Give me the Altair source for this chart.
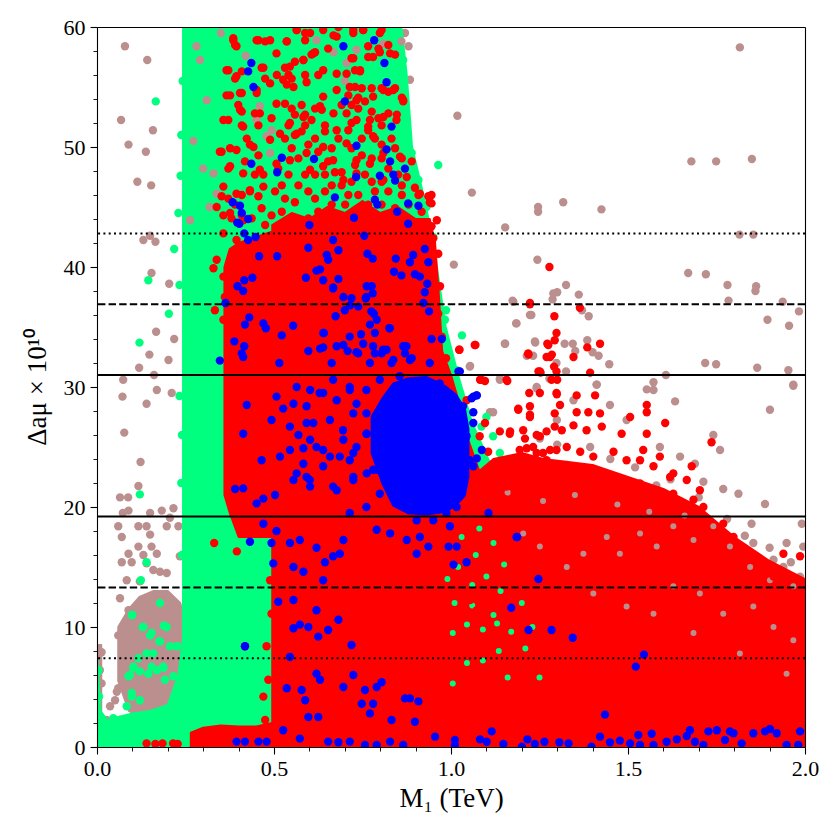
import altair as alt
import pandas as pd

# ---------------- colours ----------------
BROWN = "#BC8F8F"
GREEN = "#00FF7F"
RED = "#FF0000"
BLUE = "#0000FF"

# ---------------- dense regions (x, lower y, upper y) ----------------
brown_bands = {
    "strip":   ([0.0, 0.012], [1.5, 1.5], [8.5, 8.5]),
    "cluster": ([0.06, 0.09, 0.12, 0.16, 0.20, 0.235, 0.245],
                [5.5, 3.0, 2.5, 2.5, 3.0, 4.0, 8.0],
                [10.0, 11.5, 12.5, 13.0, 13.0, 12.0, 11.0]),
}
green_bands = {
    "left": ([0.0, 0.01, 0.03, 0.06, 0.10, 0.15, 0.20, 0.23, 0.243],
             [0, 0, 0, 0, 0, 0, 0, 0, 0],
             [7.5, 3.0, 2.2, 2.5, 2.8, 3.0, 3.5, 6.0, 9.0]),
    "main": ([0.243, 0.86, 0.875, 0.89, 0.93, 0.96, 0.985, 1.02, 1.06, 1.12, 1.15, 1.2, 1.26, 1.3, 1.34],
             [0, 0, 0, 0, 0, 0, 0, 0, 0, 0, 0, 0, 0, 0, 0],
             [60, 60, 56, 50, 45, 40, 35, 31, 27, 23, 20, 15, 13.5, 12.5, 9]),
}
red_bands = {
    "bottomleft": ([0.265, 0.3, 0.35, 0.4, 0.45, 0.495],
                   [0, 0, 0, 0, 0, 0],
                   [1.2, 1.6, 1.8, 1.7, 1.7, 2.0]),
    "left": ([0.36, 0.375, 0.40, 0.45, 0.50],
             [21, 19.5, 17.5, 17.5, 17.5],
             [40, 41.5, 42, 42.5, 43]),
    "main": ([0.495, 0.55, 0.6, 0.65, 0.7, 0.75, 0.8, 0.85, 0.90, 0.94, 0.955, 0.965, 0.975, 1.0,
              1.02, 1.05, 1.08, 1.12, 1.2, 1.26, 1.32, 1.4, 1.5, 1.6, 1.7, 1.8, 1.9, 2.0],
             [0] * 28,
             [43.5, 44.5, 44, 45, 44.5, 45.5, 44.5, 45, 44, 44, 42, 38, 33, 31,
              29, 25.5, 23, 24, 24.5, 24, 23.8, 23.5, 22.5, 21.5, 20, 17.5, 15.5, 14]),
}
blue_bands = {
    "blob": ([0.78, 0.81, 0.84, 0.88, 0.93, 0.98, 1.01, 1.035, 1.045],
             [24.5, 22.0, 20.2, 19.6, 19.5, 19.7, 20.2, 21.0, 22.5],
             [27.5, 29.0, 30.2, 30.6, 30.7, 30.0, 29.3, 28.2, 26.5]),
}

# ---------------- individual points ----------------
brown_points = [
    (0.079, 58.4), (0.142, 57.25), (0.068, 52.25), (0.158, 51.4), (0.089, 50.2), (0.138, 49.6),
    (0.114, 47.1), (0.153, 46.8), (0.131, 42.25), (0.150, 42.6), (0.165, 42.1), (0.154, 39.5),
    (0.204, 38.6), (0.167, 34.6), (0.218, 34.0), (0.148, 32.7), (0.119, 31.6), (0.202, 32.25),
    (0.161, 31.0), (0.074, 30.6), (0.072, 29.2), (0.169, 29.75), (0.140, 28.6), (0.211, 29.5),
    (0.077, 26.2), (0.123, 23.75), (0.117, 21.75), (0.065, 20.8), (0.088, 20.8), (0.073, 19.5),
    (0.089, 19.7), (0.150, 19.5), (0.183, 19.7), (0.216, 19.9), (0.206, 19.1), (0.060, 18.4),
    (0.117, 18.4), (0.140, 18.4), (0.150, 17.7), (0.197, 18.4), (0.230, 18.4), (0.070, 17.5),
    (0.154, 16.7), (0.117, 16.7), (0.089, 16.1), (0.131, 16.0), (0.169, 16.1), (0.070, 15.4),
    (0.098, 15.4), (0.140, 15.3), (0.159, 14.75), (0.178, 14.6), (0.197, 14.5), (0.234, 15.9),
    (0.084, 13.9), (0.121, 13.8), (0.065, 12.4), (0.089, 11.4), (0.060, 9.3), (0.074, 9.2),
    (0.013, 7.9), (0.056, 4.6), (0.037, 3.4), (0.027, 2.25), (0.060, 4.9), (0.051, 3.9),
    (0.032, 1.7), (0.008, 7.8), (0.008, 6.4), (0.013, 5.3), (0.071, 8.6),
    (1.412, 30.2), (1.572, 29.75), (1.633, 28.8), (1.449, 28.5), (1.496, 27.25), (1.590, 25.0),
    (1.647, 24.2), (1.689, 23.6), (1.713, 22.1), (1.769, 21.5), (1.812, 21.1), (1.887, 20.25),
    (1.901, 28.1), (1.967, 30.2), (1.741, 26.0), (1.760, 24.75), (1.849, 18.6), (1.991, 18.6),
    (1.854, 17.0), (1.939, 15.0), (1.986, 14.2), (1.110, 27.9), (1.251, 25.7), (1.195, 23.8),
    (1.948, 17.0), (1.995, 16.7), (1.911, 15.6), (1.346, 28.9), (1.299, 27.25), (1.393, 25.0),
    (1.816, 58.3), (1.018, 52.6), (1.679, 48.8), (1.749, 48.8), (1.850, 49.0), (1.059, 46.2),
    (1.246, 45.0), (1.246, 44.6), (1.317, 45.4), (1.425, 44.8), (1.153, 43.3), (1.815, 42.7),
    (1.854, 42.7), (1.008, 40.2), (1.244, 40.6), (1.670, 39.5), (1.720, 39.4), (1.781, 38.5),
    (1.862, 38.4), (1.860, 38.0), (1.325, 38.5), (1.300, 37.9), (1.287, 37.3), (1.361, 37.7),
    (1.174, 37.2), (1.784, 37.2), (1.937, 37.1), (1.983, 36.3), (1.227, 36.0), (1.184, 35.3),
    (1.894, 35.6), (1.955, 35.1), (1.389, 35.9), (1.370, 36.4), (1.153, 33.6), (1.238, 33.7),
    (1.321, 33.6), (1.344, 33.6), (1.351, 33.0), (1.385, 33.9), (1.400, 32.9), (1.417, 32.6),
    (1.447, 31.9), (1.214, 32.6), (1.232, 32.6), (1.054, 31.75), (1.718, 32.0), (1.749, 31.9),
    (1.865, 31.6), (1.953, 31.4), (1.607, 31.0), (1.572, 30.4), (1.138, 30.7), (1.967, 30.1),
    (1.298, 32.0), (1.278, 30.7), (1.325, 31.3), (1.411, 30.2), (1.553, 29.8), (1.242, 30.0),
    (1.176, 37.1), (1.185, 35.3), (1.152, 33.6), (1.223, 36.0), (1.237, 33.8), (1.242, 29.9),
    (1.289, 37.8), (1.053, 31.7), (1.138, 30.6), (1.119, 27.9), (1.176, 23.8), (1.213, 23.4),
    (1.157, 22.7), (0.884, 55.6), (0.870, 59.5), (0.880, 58.4),
    (1.30, 25.2), (1.45, 24.0), (1.52, 23.3), (1.62, 22.3), (1.70, 20.8), (1.78, 19.0),
    (1.83, 17.6), (1.90, 16.6), (1.96, 15.4), (1.40, 22.6), (1.58, 21.8), (1.75, 17.8),
]
brown_patch_points = [
    (0.281, 58.4), (0.291, 57.25), (0.310, 53.9), (0.451, 52.25), (0.479, 50.9), (0.493, 51.4),
    (0.489, 49.5), (0.460, 53.4), (0.668, 57.9), (0.733, 58.1), (0.705, 57.0), (0.809, 58.6),
    (0.329, 47.8), (0.338, 46.1), (0.263, 43.9), (0.350, 59.5), (0.420, 57.6), (0.620, 58.9),
    (0.700, 55.5), (0.860, 58.8), (0.272, 50.5), (0.300, 48.2), (0.318, 45.0),
]
# brown showing through gaps of the red cloud on the right
brown_gap_points = [
    (1.374, 16.1), (1.440, 17.5), (1.477, 16.1), (1.534, 17.8), (1.581, 16.7), (1.628, 18.4),
    (1.685, 17.25), (1.741, 18.4), (1.788, 16.7), (1.845, 15.0), (1.901, 13.9), (1.967, 13.4),
    (1.628, 13.4), (1.703, 12.8), (1.769, 11.1), (1.854, 11.7), (1.911, 10.0), (1.967, 8.9),
    (1.816, 7.8), (1.948, 6.1), (1.685, 9.5), (1.572, 11.1), (1.496, 11.7), (1.402, 12.8),
    (1.327, 15.0), (1.251, 16.7), (1.204, 17.8), (1.35, 21.0), (1.47, 20.2), (1.56, 19.6),
    (1.66, 19.3), (1.26, 20.5), (1.16, 21.2),
]
green_points = [
    (0.166, 53.8), (0.218, 41.5), (0.145, 38.9), (0.233, 38.5), (0.203, 36.1), (0.120, 33.7),
    (0.964, 48.5), (0.121, 21.05), (0.140, 15.4), (0.124, 13.9), (0.098, 11.0), (0.131, 10.0),
    (0.150, 9.3), (0.178, 8.8), (0.197, 10.0), (0.227, 8.4), (0.103, 6.7), (0.093, 6.0),
    (0.098, 4.5), (0.004, 6.4), (0.154, 6.7), (0.188, 6.6), (0.206, 8.4), (0.233, 29.25),
    (0.100, 11.0), (0.129, 10.0), (0.154, 9.5), (0.176, 8.8), (0.189, 10.1), (0.178, 12.0),
    (0.225, 8.4), (0.117, 7.4), (0.140, 7.8), (0.159, 7.8), (0.103, 6.6), (0.121, 6.3),
    (0.145, 6.1), (0.169, 6.4), (0.187, 6.7), (0.192, 5.6), (0.089, 5.9), (0.216, 5.9),
    (0.084, 3.4), (0.098, 4.2), (0.121, 3.9), (0.216, 3.1), (0.046, 2.4), (0.065, 2.25),
    (0.103, 1.7), (0.003, 6.3), (0.006, 4.2),
    (0.230, 44.5), (0.236, 47.6), (0.242, 55.5), (0.238, 51.0), (0.240, 26.0), (0.238, 22.0),
    (0.240, 16.0),
    (0.865, 57.25), (0.851, 55.0), (0.875, 52.25), (0.889, 49.5), (0.908, 47.25), (0.931, 45.0),
    (0.950, 42.5), (1.031, 34.3), (0.983, 35.6), (0.986, 36.4), (0.987, 32.5), (1.016, 31.4),
    (1.100, 27.5), (1.086, 26.7), (1.119, 25.9), (1.138, 24.5), (1.129, 23.4), (1.138, 22.25),
    (1.157, 20.6), (1.185, 19.75),
]
# green showing through gaps of the red cloud
green_gap_points = [
    (1.005, 9.5), (1.045, 10.2), (1.090, 9.8), (1.130, 10.3), (1.045, 7.0), (1.090, 7.2),
    (1.135, 8.0), (1.170, 9.6), (1.210, 8.2), (1.010, 12.0), (1.060, 13.5), (1.100, 14.2),
    (1.140, 13.0), (1.020, 15.0), (1.070, 16.0), (1.005, 5.3), (1.160, 5.8), (1.250, 5.8),
    (1.200, 12.0), (1.120, 11.0), (1.030, 17.5), (1.080, 18.2), (1.120, 17.0), (1.060, 11.8),
    (0.990, 14.0), (1.150, 15.2), (1.230, 10.0),
]
red_points = [
    (0.385, 58.9), (0.394, 58.4), (0.451, 58.9), (0.489, 58.9), (0.536, 58.8), (0.564, 59.75),
    (0.602, 59.5), (0.639, 59.75), (0.677, 59.2), (0.724, 59.75), (0.752, 59.75), (0.799, 59.5),
    (0.366, 56.4), (0.394, 55.9), (0.470, 56.6), (0.507, 57.8), (0.545, 56.7), (0.583, 57.25),
    (0.611, 57.8), (0.639, 56.4), (0.677, 56.1), (0.724, 57.4), (0.743, 56.4), (0.780, 57.5),
    (0.828, 57.8), (0.837, 54.75), (0.865, 53.9), (0.376, 54.3), (0.404, 54.5), (0.451, 54.75),
    (0.489, 55.3), (0.526, 55.6), (0.555, 55.0), (0.592, 55.4), (0.639, 54.2), (0.677, 54.75),
    (0.714, 55.0), (0.733, 53.9), (0.780, 54.2), (0.809, 54.75), (0.357, 52.25), (0.404, 53.1),
    (0.413, 51.7), (0.460, 52.8), (0.507, 53.6), (0.545, 52.0), (0.583, 52.5), (0.630, 53.4),
    (0.677, 51.4), (0.705, 52.8), (0.733, 52.25), (0.771, 52.25), (0.809, 52.5), (0.846, 52.25),
    (0.347, 49.6), (0.394, 49.75), (0.442, 50.0), (0.489, 50.6), (0.517, 51.1), (0.564, 51.1),
    (0.592, 49.5), (0.639, 50.0), (0.667, 48.9), (0.705, 50.3), (0.733, 48.9), (0.780, 50.9),
    (0.809, 49.5), (0.856, 49.2), (0.376, 48.4), (0.413, 47.8), (0.460, 48.1), (0.507, 48.6),
    (0.545, 48.9), (0.602, 48.1), (0.639, 48.4), (0.696, 47.25), (0.733, 47.8), (0.771, 48.6),
    (0.809, 47.25), (0.875, 47.5), (0.912, 46.1), (0.940, 45.9), (0.940, 45.4), (0.357, 46.7),
    (0.394, 46.1), (0.432, 46.4), (0.470, 46.7), (0.338, 45.0), (0.376, 44.5), (0.413, 43.9),
    (0.357, 42.8), (0.394, 42.25), (0.338, 40.6), (0.329, 39.9), (0.357, 39.2), (0.361, 37.5),
    (0.333, 36.4), (0.357, 35.6), (0.376, 32.8), (0.960, 43.9), (0.964, 41.1), (0.969, 38.4),
    (0.964, 36.1), (0.974, 34.2), (0.960, 32.25), (0.945, 46.0), (0.945, 43.4), (0.950, 42.4),
    (1.278, 40.0), (1.223, 36.9), (1.364, 36.6), (1.292, 35.9), (1.298, 34.5), (1.272, 33.6),
    (1.421, 33.6), (1.385, 33.3), (1.219, 32.7), (1.285, 32.7), (1.280, 32.5), (1.346, 32.5),
    (1.069, 33.5), (1.024, 33.1), (0.986, 32.4), (1.291, 31.7), (1.298, 31.3), (1.393, 31.2),
    (1.247, 31.3), (1.253, 31.2), (1.159, 30.5), (1.082, 30.6), (1.096, 30.5), (1.300, 30.6),
    (1.223, 37.0), (1.067, 33.5), (1.023, 33.1), (1.157, 30.6), (1.086, 30.6), (1.190, 28.2),
    (1.223, 28.4), (1.223, 27.7), (1.251, 31.3), (1.284, 30.6), (1.270, 32.5), (1.293, 33.9),
    (1.275, 33.5), (1.218, 32.8), (1.298, 29.5), (1.293, 27.8), (1.138, 26.3), (1.166, 26.1),
    (1.209, 25.7), (1.251, 25.9), (1.293, 26.7), (1.194, 24.75), (1.232, 25.0), (1.260, 24.5),
    (1.298, 24.75), (1.138, 23.2), (1.185, 22.9), (1.232, 23.4), (1.270, 23.9), (1.157, 21.7),
    (1.232, 21.8), (1.270, 21.1), (1.105, 24.6), (1.081, 25.9), (1.096, 27.0), (1.044, 28.9),
    (1.221, 29.5), (1.251, 29.5), (1.299, 29.4), (1.355, 29.3), (1.407, 29.3), (1.308, 28.5),
    (1.355, 27.9), (1.388, 27.9), (1.421, 27.8), (1.190, 28.1), (1.223, 27.5), (1.270, 26.3),
    (1.313, 26.4), (1.346, 26.8), (1.383, 26.4), (1.426, 26.7), (1.482, 26.1), (1.506, 27.5),
    (1.553, 28.5), (1.553, 27.9), (1.605, 27.0), (1.553, 26.1), (1.543, 24.75), (1.590, 24.2),
    (1.619, 22.5), (1.680, 23.4), (1.736, 25.4), (1.167, 26.3), (1.204, 26.4), (1.242, 26.0),
    (1.214, 24.9), (1.242, 24.5), (1.280, 24.75), (1.327, 25.0), (1.365, 24.6), (1.402, 24.2),
    (1.459, 24.6), (1.496, 23.9), (1.534, 23.9), (1.572, 23.4), (1.628, 22.8), (1.666, 22.25),
    (1.703, 21.4), (1.186, 23.1), (1.223, 23.4), (1.289, 23.1), (1.336, 22.8), (1.374, 22.5),
    (1.440, 22.5), (1.487, 22.25), (1.534, 21.97), (1.581, 21.4), (1.628, 21.1), (1.685, 20.6),
    (1.713, 20.0), (1.769, 18.6), (1.798, 17.5), (1.845, 16.1), (1.873, 15.0), (1.911, 14.2),
    (1.939, 16.1), (1.986, 15.9), (1.741, 16.1), (1.788, 15.0), (1.816, 13.9), (1.948, 13.9),
    (0.331, 17.0), (0.395, 16.3), (0.489, 13.9), (0.493, 11.1), (0.479, 8.4), (0.484, 5.6),
    (0.470, 4.2), (0.475, 2.25), (0.140, 0.3), (0.165, 0.25), (0.185, 0.3), (0.215, 0.3),
    (0.228, 0.25), (0.418, 8.4),
    (0.988, 12.8), (1.025, 13.1), (1.054, 12.25), (0.997, 11.1), (1.035, 11.1), (1.073, 11.4),
    (1.110, 12.5), (1.138, 11.7), (1.101, 10.3), (1.063, 9.5), (1.025, 8.9), (0.988, 8.1),
    (1.025, 7.8), (1.082, 8.4), (1.120, 9.2), (1.157, 8.9), (1.186, 7.8), (1.223, 7.0),
    (1.195, 6.4), (1.148, 6.7), (1.110, 7.25), (1.073, 6.4), (1.025, 6.1), (0.997, 6.4),
    (1.233, 8.9), (1.251, 10.3), (1.204, 11.1), (1.167, 10.6), (1.242, 11.7), (1.186, 12.5),
    (1.219, 12.8),
]
red_points_top = [
    (0.385, 59.06), (0.390, 58.5), (0.456, 58.9), (0.475, 58.8), (0.564, 59.75), (0.588, 59.5),
    (0.588, 58.9), (0.536, 58.8), (0.653, 58.2), (0.668, 59.3), (0.682, 60.0), (0.752, 59.75),
    (0.724, 59.5), (0.804, 59.75), (0.766, 58.4), (0.795, 58.2), (0.823, 58.5), (0.842, 57.7),
    (0.799, 57.9), (0.719, 57.4), (0.766, 57.5), (0.729, 56.4), (0.743, 56.3), (0.705, 56.1),
    (0.371, 56.4), (0.409, 56.3), (0.390, 55.7), (0.465, 56.6), (0.475, 55.7), (0.508, 56.0),
    (0.531, 56.6), (0.541, 56.0), (0.559, 57.1), (0.583, 57.25), (0.606, 57.7), (0.616, 57.9),
    (0.625, 56.0), (0.588, 56.0), (0.536, 55.2), (0.550, 55.7), (0.729, 55.0), (0.748, 54.9),
    (0.776, 54.9), (0.804, 54.9), (0.823, 54.6), (0.842, 54.9), (0.861, 54.1), (0.865, 53.8),
    (0.710, 54.3), (0.738, 54.1), (0.757, 53.8), (0.719, 53.5), (0.366, 54.3), (0.409, 54.5),
    (0.451, 54.5), (0.399, 53.5), (0.409, 52.95), (0.446, 52.8), (0.531, 53.6), (0.550, 53.2),
    (0.578, 53.5), (0.559, 52.7), (0.588, 52.7), (0.616, 53.2), (0.635, 53.1), (0.606, 52.25),
    (0.668, 52.8), (0.691, 53.5), (0.738, 53.2), (0.776, 52.95), (0.795, 52.4), (0.823, 52.8),
    (0.847, 52.7), (0.371, 52.25), (0.409, 51.8), (0.456, 51.8), (0.493, 52.4), (0.541, 51.8),
    (0.588, 51.8), (0.644, 51.8), (0.719, 52.0), (0.766, 51.7), (0.804, 51.8),
    (0.352, 49.6), (0.376, 49.9), (0.371, 48.2), (0.423, 50.7), (0.432, 50.2), (0.418, 48.8),
    (0.456, 49.3), (0.446, 47.7), (0.470, 47.7), (0.432, 46.3), (0.409, 46.0), (0.456, 45.9),
    (0.352, 45.9), (0.371, 45.7), (0.390, 45.2), (0.357, 44.3), (0.380, 44.05), (0.409, 44.3),
    (0.437, 44.05), (0.465, 44.9), (0.493, 44.3), (0.475, 43.5), (0.522, 44.6), (0.503, 46.3),
    (0.522, 46.8), (0.512, 48.2), (0.541, 47.7), (0.531, 50.7), (0.559, 51.0), (0.578, 51.3),
    (0.550, 49.9), (0.569, 49.05), (0.597, 50.2), (0.616, 50.7), (0.644, 51.3), (0.625, 49.6),
    (0.653, 48.8), (0.663, 49.9), (0.682, 50.7), (0.710, 51.4), (0.719, 49.9), (0.748, 50.7),
    (0.766, 51.4), (0.785, 50.7), (0.804, 50.2), (0.832, 50.7), (0.842, 49.9), (0.861, 49.05),
    (0.804, 49.05), (0.776, 49.05), (0.748, 49.3), (0.729, 48.5), (0.691, 47.9), (0.672, 47.9),
    (0.644, 47.7), (0.616, 47.7), (0.588, 47.7), (0.569, 46.8), (0.597, 46.3), (0.616, 45.7),
    (0.644, 46.3), (0.663, 46.8), (0.691, 46.8), (0.719, 47.1), (0.757, 47.7), (0.776, 47.1),
    (0.804, 47.1), (0.823, 48.2), (0.851, 47.7), (0.861, 46.8), (0.889, 48.8), (0.898, 46.6),
    (0.908, 46.0), (0.936, 45.9), (0.945, 45.3), (0.785, 46.3), (0.823, 46.3), (0.861, 46.0),
    (0.880, 45.2), (0.917, 44.6), (0.842, 44.9), (0.804, 45.2), (0.766, 45.2), (0.738, 46.0),
    (0.710, 46.0), (0.701, 45.2), (0.663, 45.2), (0.625, 44.6), (0.597, 44.05), (0.569, 43.5),
    (0.541, 43.2), (0.635, 43.5), (0.672, 43.5), (0.710, 44.05), (0.748, 44.05), (0.785, 44.3),
    (0.823, 43.8), (0.861, 43.8), (0.898, 43.5), (0.936, 43.5), (0.559, 45.4), (0.531, 45.7),
]
blue_points = [
    (0.783, 58.9), (0.696, 58.4), (0.436, 57.0), (0.427, 56.3), (0.442, 55.0), (0.812, 57.0),
    (0.818, 55.4), (0.700, 53.8), (0.832, 51.7), (0.733, 50.1), (0.522, 49.1), (0.613, 49.0),
    (0.436, 48.6), (0.509, 47.9), (0.818, 49.8), (0.828, 48.8), (0.799, 47.6), (0.837, 47.7),
    (0.842, 47.2), (0.870, 48.2), (0.732, 47.5), (0.672, 45.8), (0.785, 45.6), (0.792, 45.2),
    (0.879, 45.3), (0.908, 45.1), (0.848, 44.6), (0.383, 45.4), (0.404, 45.1), (0.409, 44.5),
    (0.396, 43.7), (0.402, 43.6), (0.427, 44.0), (0.726, 44.1), (0.600, 43.5), (0.879, 43.6),
    (0.416, 42.8), (0.427, 42.25), (0.448, 42.5), (0.597, 41.6), (0.667, 42.25), (0.682, 41.4),
    (0.926, 41.5), (0.755, 42.6), (0.458, 40.9), (0.509, 40.9), (0.649, 41.0), (0.653, 40.6),
    (0.764, 41.1), (0.779, 40.7), (0.844, 40.7), (0.884, 40.4), (0.893, 41.0), (0.936, 40.4),
    (0.620, 39.7), (0.630, 39.8), (0.590, 39.1), (0.639, 38.9), (0.682, 39.0), (0.839, 39.6),
    (0.860, 39.3), (0.898, 39.4), (0.912, 39.2), (0.416, 38.9), (0.439, 39.1), (0.397, 38.4),
    (0.413, 38.0), (0.667, 38.3), (0.762, 38.4), (0.776, 38.4), (0.933, 38.6), (0.696, 37.5),
    (0.719, 37.4), (0.759, 37.4), (0.779, 37.8), (0.926, 37.9), (0.922, 37.0), (0.363, 37.0),
    (0.782, 36.1), (0.674, 35.9), (0.700, 36.4), (0.715, 36.8), (0.738, 36.7), (0.938, 36.3),
    (0.430, 35.8), (0.418, 35.2), (0.470, 35.3), (0.477, 34.9), (0.771, 35.2), (0.785, 34.5),
    (0.554, 35.1), (0.522, 34.3), (0.641, 34.5), (0.696, 33.5), (0.746, 34.4), (0.752, 33.6),
    (0.826, 34.9), (0.945, 34.0), (0.974, 34.0), (0.388, 33.8), (0.416, 33.4), (0.413, 32.5),
    (0.409, 32.8), (0.597, 33.0), (0.630, 33.2), (0.639, 33.3), (0.708, 33.0), (0.733, 32.9),
    (0.780, 33.4), (0.785, 32.8), (0.804, 32.8), (0.818, 33.1), (0.865, 33.4), (0.870, 32.8),
    (0.889, 32.4), (0.347, 32.2), (0.515, 32.0), (0.663, 32.0), (0.832, 32.0), (0.940, 32.0),
    (0.423, 28.5), (0.413, 26.1), (0.390, 21.5), (0.413, 21.55), (0.465, 23.9), (0.493, 27.25),
    (0.526, 28.2), (0.555, 28.6), (0.507, 29.2), (0.545, 26.7), (0.569, 26.0), (0.592, 27.0),
    (0.602, 25.6), (0.517, 24.2), (0.545, 24.75), (0.583, 24.9), (0.620, 25.0), (0.639, 24.75),
    (0.564, 22.8), (0.555, 22.25), (0.592, 22.5), (0.602, 21.7), (0.583, 23.6), (0.658, 24.2),
    (0.564, 30.0), (0.602, 29.75), (0.639, 29.5), (0.677, 28.9), (0.714, 29.75), (0.733, 28.6),
    (0.696, 25.6), (0.733, 25.0), (0.762, 26.1), (0.790, 27.0), (0.714, 23.9), (0.762, 22.8),
    (0.790, 23.1), (0.677, 21.4), (0.724, 22.5), (0.470, 20.7), (0.503, 21.0), (0.451, 20.3),
    (0.432, 17.1), (0.493, 17.0), (0.507, 18.0), (0.545, 17.0), (0.573, 17.25), (0.620, 16.6),
    (0.470, 18.6), (0.498, 15.3), (0.555, 15.0), (0.583, 14.6), (0.644, 15.4), (0.667, 15.9),
    (0.686, 16.1), (0.696, 17.25), (0.639, 13.9), (0.790, 18.1), (0.828, 17.8), (0.875, 17.25),
    (0.912, 17.5), (0.903, 16.1), (0.936, 16.7), (0.512, 12.1), (0.555, 12.25), (0.573, 10.2),
    (0.597, 10.0), (0.620, 11.4), (0.555, 9.9), (0.625, 9.2), (0.653, 9.75), (0.682, 10.6),
    (0.719, 8.5), (0.545, 7.5), (0.620, 6.1), (0.630, 5.6), (0.588, 3.9), (0.578, 4.75),
    (0.536, 4.9), (0.696, 5.0), (0.724, 6.0), (0.757, 4.75), (0.790, 5.0), (0.804, 5.4),
    (0.748, 3.6), (0.771, 2.8), (0.573, 0.7), (0.597, 2.5), (0.625, 2.5), (0.653, 0.45),
    (0.682, 0.4), (0.714, 0.45), (0.757, 0.17), (0.790, 0.17), (0.828, 0.45), (0.832, 2.25),
    (0.884, 4.05), (0.908, 3.8), (0.898, 2.1), (0.955, 0.86), (0.865, 0.17), (0.870, 4.05),
    (0.780, 3.6), (0.418, 8.4), (0.394, 0.45), (0.418, 0.45), (0.456, 0.45), (0.479, 0.45),
    (0.526, 1.4),
    (0.988, 29.6), (1.063, 27.9), (1.058, 29.05), (1.073, 29.3), (1.087, 24.75), (1.073, 24.05),
    (1.063, 23.4), (1.106, 19.5), (0.997, 18.4), (0.993, 16.7), (1.016, 16.7), (1.044, 15.4),
    (1.007, 15.2), (1.187, 17.5), (1.247, 14.0), (1.170, 11.6), (1.219, 9.75), (1.284, 9.75),
    (1.344, 9.1), (1.545, 7.7), (1.522, 6.7), (1.435, 2.7), (1.115, 1.3), (1.011, 0.58),
    (1.011, 0.17), (1.082, 0.64), (1.101, 0.44), (1.148, 0.25), (1.200, 0.03), (1.216, 0.64),
    (1.237, 0.25), (1.264, 0.44), (1.306, 0.39), (1.332, 0.3), (1.397, 0.03), (1.421, 0.86),
    (1.449, 0.39), (1.477, 0.53), (1.506, 0.3), (1.529, 1.0), (1.567, 1.1), (1.534, 0.17),
    (1.572, 0.17), (1.609, 0.44), (1.638, 0.64), (1.666, 0.92), (1.675, 1.4), (1.689, 0.44),
    (1.713, 0.17), (1.727, 1.3), (1.751, 1.4), (1.774, 0.58), (1.788, 1.3), (1.798, 1.15),
    (1.821, 0.3), (1.854, 1.15), (1.887, 1.3), (1.901, 1.5), (1.920, 1.15), (1.948, 0.17),
    (1.986, 1.3), (1.981, 0.17), (1.021, 31.3),
    (0.761, 37.5), (0.775, 36.3), (0.790, 35.6), (0.827, 34.9), (0.667, 38.2), (0.639, 34.5),
    (0.677, 33.4), (0.714, 34.2), (0.738, 32.8), (0.771, 32.0), (0.808, 33.1), (0.837, 32.25),
    (0.874, 33.4), (0.884, 32.25), (0.855, 30.9), (0.799, 30.6), (0.761, 29.75), (0.714, 30.0),
    (0.667, 30.6), (0.629, 29.5), (0.592, 28.4), (0.611, 27.0), (0.658, 27.25), (0.695, 26.4),
    (0.724, 27.8), (0.761, 27.8), (0.808, 28.4), (0.761, 26.1), (0.724, 24.5), (0.686, 24.2),
    (0.639, 23.4), (0.601, 22.25), (0.667, 21.7), (0.724, 22.25), (0.780, 23.1), (0.808, 24.2),
    (0.818, 22.25), (0.799, 21.1), (0.761, 20.0), (0.714, 19.5), (0.846, 20.6), (0.884, 21.7),
    (1.044, 25.9), (1.063, 27.0), (1.034, 28.4), (1.053, 23.9), (1.025, 21.7), (1.016, 20.0),
    (0.987, 19.5), (0.950, 18.9), (0.903, 18.9), (0.855, 29.75), (0.903, 30.0), (0.968, 30.3),
    (1.063, 29.2), (1.072, 29.3), (1.025, 31.3), (1.185, 17.5),
]

# reference lines: 25.1 +- 1, 2, 3 sigma
solid_lines = [19.2, 31.0]
dashed_lines = [13.3, 36.9]
dotted_lines = [7.4, 42.8]

x_major = [0.0, 0.5, 1.0, 1.5, 2.0]
x_minor = [0.1, 0.2, 0.3, 0.4, 0.6, 0.7, 0.8, 0.9, 1.1, 1.2, 1.3, 1.4, 1.6, 1.7, 1.8, 1.9]
y_major = [0, 10, 20, 30, 40, 50, 60]
y_minor = [2, 4, 6, 8, 12, 14, 16, 18, 22, 24, 26, 28, 32, 34, 36, 38, 42, 44, 46, 48, 52, 54, 56, 58]

# ---------------- build tables ----------------
def band_table(bands):
    rows = []
    for name, (xs, los, his) in bands.items():
        for xv, lo, hi in zip(xs, los, his):
            rows.append({"band": name, "x": xv, "y": lo, "y2": hi})
    return pd.DataFrame(rows)


def point_table(pts):
    return pd.DataFrame({"x": [p[0] for p in pts], "y": [p[1] for p in pts]})


FONT = "Liberation Serif"
DOT = 70
GAP_DOT = 36
xscale = alt.Scale(domain=[0, 2], nice=False, zero=False)
yscale = alt.Scale(domain=[0, 60], nice=False, zero=False)

common_axis = dict(grid=False, domainColor="black", tickColor="black", labelColor="black",
                   titleColor="black", labelFont=FONT, titleFont=FONT, labelFontSize=22,
                   titleFontSize=27, titleFontWeight="normal", domainWidth=1.1, tickWidth=1.1,
                   tickSize=7, zindex=1)
x_axis = alt.Axis(values=x_major, format=".1f", orient="bottom", title="M₁ (TeV)",
                  labelPadding=4, titlePadding=6, labelFlush=False, **common_axis)
y_axis = alt.Axis(values=y_major, format="d", orient="left", title="Δaμ × 10¹⁰",
                  labelPadding=5, titlePadding=12, labelFlush=False, **common_axis)


def band_layer(bands, color, first=False, edge=2):
    enc = dict(
        x=alt.X("x:Q", scale=xscale, axis=x_axis) if first else alt.X("x:Q", scale=xscale),
        y=alt.Y("y:Q", scale=yscale, axis=y_axis) if first else alt.Y("y:Q", scale=yscale),
        y2="y2:Q",
        detail="band:N",
    )
    return alt.Chart(band_table(bands)).mark_area(
        color=color, opacity=1, clip=True, interpolate="linear",
        stroke=color, strokeWidth=edge, strokeJoin="round").encode(**enc)


def point_layer(pts, color, size=DOT):
    return alt.Chart(point_table(pts)).mark_circle(
        color=color, size=size, opacity=1, clip=True).encode(
        x=alt.X("x:Q", scale=xscale), y=alt.Y("y:Q", scale=yscale))


def rule_layer(values, dash):
    mk = dict(color="black", strokeWidth=2)
    if dash:
        mk["strokeDash"] = dash
    return alt.Chart(pd.DataFrame({"y": values})).mark_rule(**mk).encode(
        y=alt.Y("y:Q", scale=yscale))


main = alt.layer(
    band_layer(brown_bands, BROWN, first=True),
    point_layer(brown_points, BROWN),
    band_layer(green_bands, GREEN),
    point_layer(brown_patch_points, BROWN),
    point_layer(green_points, GREEN),
    band_layer(red_bands, RED),
    point_layer(green_gap_points, GREEN, GAP_DOT),
    point_layer(brown_gap_points, BROWN, GAP_DOT),
    point_layer(red_points, RED),
    point_layer(red_points_top, RED),
    band_layer(blue_bands, BLUE, edge=5),
    point_layer(blue_points, BLUE),
    rule_layer(solid_lines, None),
    rule_layer(dashed_lines, [7.4, 3.2]),
    rule_layer(dotted_lines, [2, 3.3]),
)

# minor ticks
minor = alt.Chart(pd.DataFrame({"x": [0.0], "y": [0.0]})).mark_point(opacity=0).encode(
    x=alt.X("x:Q", scale=xscale, axis=alt.Axis(values=x_minor, orient="bottom", labels=False,
                                               domain=False, grid=False, tickSize=4, tickWidth=0.9,
                                               tickColor="black", title=None, zindex=1)),
    y=alt.Y("y:Q", scale=yscale, axis=alt.Axis(values=y_minor, orient="left", labels=False,
                                               domain=False, grid=False, tickSize=4, tickWidth=0.9,
                                               tickColor="black", title=None, zindex=1)),
)

# top / right frame
frame = alt.Chart(pd.DataFrame({"x": [0.0], "y": [0.0]})).mark_point(opacity=0).encode(
    x=alt.X("x:Q", scale=xscale, axis=alt.Axis(orient="top", labels=False, ticks=False,
                                               domain=True, domainColor="black", domainWidth=1.1,
                                               grid=False, title=None, zindex=1)),
    y=alt.Y("y:Q", scale=yscale, axis=alt.Axis(orient="right", labels=False, ticks=False,
                                               domain=True, domainColor="black", domainWidth=1.1,
                                               grid=False, title=None, zindex=1)),
)

chart = alt.layer(main, minor, frame).resolve_axis(
    x="independent", y="independent"
).properties(
    width=708, height=720,
    autosize=alt.AutoSizeParams(type="none"),
    padding={"left": 89, "top": 19, "right": 20, "bottom": 80},
).configure_view(strokeWidth=0).configure(background="white")

chart.save("out.html", embed_options={"renderer": "svg", "actions": False})
